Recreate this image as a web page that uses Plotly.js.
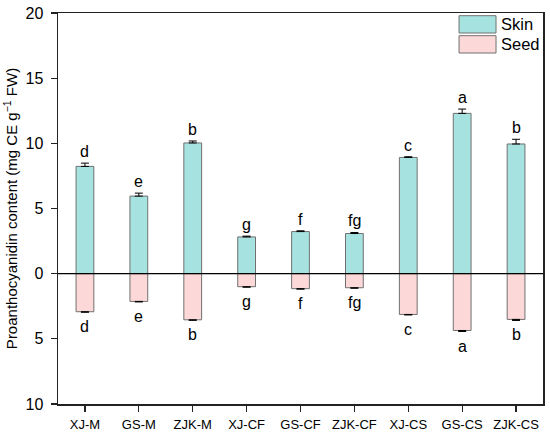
<!DOCTYPE html>
<html>
<head>
<meta charset="utf-8">
<script src="https://cdn.plot.ly/plotly-3.0.1.min.js"></script>
<style>html,body{margin:0;padding:0;background:#fff;}#chart{width:550px;height:436px;}</style>
</head>
<body>
<div id="chart"></div>
<script>
const categories = ["XJ-M","GS-M","ZJK-M","XJ-CF","GS-CF","ZJK-CF","XJ-CS","GS-CS","ZJK-CS"];
const seriesNames = ["Skin","Seed"];
const skinValues = [8.23, 5.95, 10.03, 2.82, 3.23, 3.08, 8.92, 12.3, 9.95];
const skinErrors = [0.25, 0.23, 0.15, 0.06, 0.06, 0.08, 0.05, 0.33, 0.36];
const seedValues = [2.92, 2.13, 3.54, 1.0, 1.15, 1.08, 3.13, 4.36, 3.51];
const seedErrors = [0.04, 0.04, 0.04, 0.04, 0.04, 0.04, 0.04, 0.08, 0.08];
const skinLetters = ["d","e","b","g","f","fg","c","a","b"];
const seedLetters = ["d","e","b","g","f","fg","c","a","b"];
const yTickVals = [-10,-5,0,5,10,15,20];
const yTickText = ["10","5","0","5","10","15","20"];

const skinColor = "#a6e3e0";
const seedColor = "#fdd8d8";
const edge = "#707070";
const font = "Liberation Sans, Arial, sans-serif";

const traces = [
  {
    type: "bar", name: seriesNames[0], x: categories, y: skinValues,
    marker: {color: skinColor, line: {color: edge, width: 1}},
    error_y: {type: "data", symmetric: false, array: skinErrors, arrayminus: skinErrors.map(()=>0), color: "#000", thickness: 1, width: 4},
    showlegend: false
  },
  {
    type: "bar", name: seriesNames[1], x: categories, y: seedValues.map(v => -v),
    marker: {color: seedColor, line: {color: edge, width: 1}},
    error_y: {type: "data", symmetric: false, array: seedErrors.map(()=>0), arrayminus: seedErrors, color: "#000", thickness: 1, width: 4},
    showlegend: false
  }
];

const annotations = [];
categories.forEach((c, i) => {
  annotations.push({x: c, y: skinValues[i] + skinErrors[i], text: skinLetters[i], showarrow: false,
    yanchor: "bottom", yshift: 1, font: {family: font, size: 16, color: "#000"}});
  annotations.push({x: c, y: -(seedValues[i] + seedErrors[i]), text: seedLetters[i], showarrow: false,
    yanchor: "top", yshift: -4, font: {family: font, size: 16, color: "#000"}});
});

// legend (custom, larger swatches)
const legendColors = [skinColor, seedColor];
const shapes = [
  {type: "line", xref: "paper", yref: "y", x0: 0, x1: 1, y0: 0, y1: 0, line: {color: "#000", width: 1.3}}
];
seriesNames.forEach((n, i) => {
  const top = 1 - (2.7 + i * 20) / 391;
  const bot = 1 - (20 + i * 20) / 391;
  shapes.push({type: "rect", xref: "paper", yref: "paper", x0: (459 - 57.7) / 485.3, x1: (496 - 57.7) / 485.3,
    y0: bot, y1: top, fillcolor: legendColors[i], line: {color: edge, width: 1}});
  annotations.push({xref: "paper", yref: "paper", x: (499 - 57.7) / 485.3, y: (top + bot) / 2, text: n,
    showarrow: false, xanchor: "left", yanchor: "middle", font: {family: font, size: 16.5, color: "#000"}});
});

const layout = {
  width: 550, height: 436,
  margin: {l: 58, r: 7, t: 13, b: 32},
  paper_bgcolor: "#fff", plot_bgcolor: "#fff",
  barmode: "relative", bargap: 0.67,
  font: {family: font, color: "#000"},
  xaxis: {
    type: "category", range: [-0.5, 8.5],
    showline: true, linecolor: "#222", linewidth: 1.5, mirror: true,
    ticks: "outside", ticklen: 6, tickwidth: 1.3, tickcolor: "#222",
    tickfont: {family: font, size: 13, color: "#000"}, ticklabelstandoff: 2,
    showgrid: false, zeroline: false
  },
  yaxis: {
    range: [-10, 20], tickvals: yTickVals, ticktext: yTickText,
    showline: true, linecolor: "#222", linewidth: 1.5, mirror: true,
    ticks: "outside", ticklen: 6, tickwidth: 1.3, tickcolor: "#222",
    tickfont: {family: font, size: 16, color: "#000"}, ticklabelstandoff: 4,
    showgrid: false, zeroline: false,
    title: {text: "Proanthocyanidin content (mg CE g<sup>\u22121</sup> FW)", font: {family: font, size: 15, color: "#000"}, standoff: 4}
  },
  shapes: shapes,
  annotations: annotations
};

Plotly.newPlot("chart", traces, layout, {displayModeBar: false, staticPlot: true});
</script>
</body>
</html>
